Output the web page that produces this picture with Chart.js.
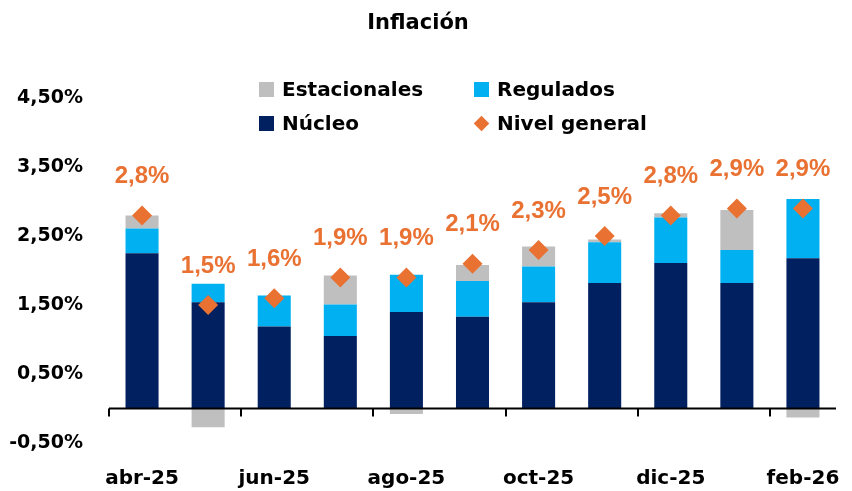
<!DOCTYPE html>
<html>
<head>
<meta charset="utf-8">
<script src="https://cdn.jsdelivr.net/npm/chart.js@4"></script>
<style>
    body { margin: 0; background: #fff; }
    #wrap { position: relative; width: 852px; height: 491px; }
    .legend { position: absolute; left: 0; top: 0; font: bold 20px "DejaVu Sans", sans-serif; color: #000; }
    .legend .item { position: absolute; display: flex; align-items: center; white-space: nowrap; height: 28px; }
    .legend .box { width: 15px; height: 15px; margin-right: 8px; }
    .legend .diamond { width: 11px; height: 11px; margin: 0 10px 0 2px; transform: rotate(45deg); }
</style>
</head>
<body>
<div id="wrap">
    <canvas id="chart"></canvas>
    <div class="legend">
        <div class="item" style="left:259px; top:75px;"><span class="box" style="background:#BFBFBF"></span>Estacionales</div>
        <div class="item" style="left:474px; top:75px;"><span class="box" style="background:#00B0F0"></span>Regulados</div>
        <div class="item" style="left:259px; top:109px;"><span class="box" style="background:#002060"></span>Núcleo</div>
        <div class="item" style="left:474px; top:109px;"><span class="diamond" style="background:#E97132"></span>Nivel general</div>
    </div>
</div>
<script>
// Datos (variación mensual, %)
const meses = ['abr-25', 'may-25', 'jun-25', 'jul-25', 'ago-25', 'sep-25', 'oct-25', 'nov-25', 'dic-25', 'ene-26', 'feb-26'];
const nucleo = [2.25, 1.54, 1.19, 1.05, 1.40, 1.33, 1.54, 1.82, 2.11, 1.82, 2.18];
const regulados = [0.36, 0.27, 0.45, 0.46, 0.54, 0.52, 0.52, 0.59, 0.66, 0.48, 0.86];
const estacionales = [0.19, -0.27, 0.00, 0.42, -0.08, 0.23, 0.29, 0.04, 0.06, 0.58, -0.13];
const nivelGeneral = [2.8, 1.5, 1.6, 1.9, 1.9, 2.1, 2.3, 2.5, 2.8, 2.9, 2.9];
const yTicks = [-0.5, 0.5, 1.5, 2.5, 3.5, 4.5];

const FONT = '"DejaVu Sans", sans-serif';
const NARANJA = '#E97132';

function pct(v, dec) {
    return v.toFixed(dec).replace('.', ',') + '%';
}

// Etiquetas naranjas sobre los rombos
const etiquetas = {
    id: 'etiquetas',
    afterDatasetsDraw(chart) {
        const meta = chart.getDatasetMeta(3);
        const ctx = chart.ctx;
        ctx.save();
        ctx.font = 'bold 24px "Liberation Sans", Arial, sans-serif';
        ctx.fillStyle = NARANJA;
        ctx.textAlign = 'center';
        ctx.textBaseline = 'middle';
        meta.data.forEach((pt, i) => {
            ctx.fillText(pct(nivelGeneral[i], 1), pt.x, pt.y - 39);
        });
        ctx.restore();
    }
};

// Eje horizontal en cero con marcas cada dos meses
const ejeCero = {
    id: 'ejeCero',
    afterDatasetsDraw(chart) {
        const x = chart.scales.x, y = chart.scales.y;
        const ctx = chart.ctx;
        const y0 = y.getPixelForValue(0);
        const half = (x.getPixelForValue(1) - x.getPixelForValue(0)) / 2;
        ctx.save();
        ctx.strokeStyle = '#000';
        ctx.lineWidth = 2;
        ctx.beginPath();
        ctx.moveTo(chart.chartArea.left, y0);
        ctx.lineTo(chart.chartArea.right, y0);
        for (let i = 0; i < meses.length; i += 2) {
            const px = Math.round(x.getPixelForValue(i) - half);
            ctx.moveTo(px, y0);
            ctx.lineTo(px, y0 + 8);
        }
        ctx.stroke();
        ctx.restore();
    }
};

new Chart(document.getElementById('chart'), {
    data: {
        labels: meses,
        datasets: [
            { type: 'bar', label: 'Núcleo', data: nucleo, backgroundColor: '#002060', stack: 'a', order: 2 },
            { type: 'bar', label: 'Regulados', data: regulados, backgroundColor: '#00B0F0', stack: 'a', order: 2 },
            { type: 'bar', label: 'Estacionales', data: estacionales, backgroundColor: '#BFBFBF', stack: 'a', order: 2 },
            {
                type: 'line', label: 'Nivel general', data: nivelGeneral, stack: 'b', order: 1,
                showLine: false, pointStyle: 'rectRot', pointRadius: 10, pointHoverRadius: 10,
                backgroundColor: NARANJA, borderColor: NARANJA, borderWidth: 0
            }
        ]
    },
    options: {
        responsive: true,
        maintainAspectRatio: false,
        animation: false,
        datasets: { bar: { categoryPercentage: 1, barPercentage: 0.5 } },
        layout: { padding: { left: 0, right: 16, top: 0, bottom: 0 } },
        plugins: {
            legend: { display: false },
            tooltip: { enabled: false },
            title: {
                display: true,
                text: 'Inflación',
                color: '#000',
                font: { family: FONT, size: 21, weight: 'bold' },
                padding: { top: 11, bottom: 62 }
            }
        },
        scales: {
            x: {
                stacked: true,
                grid: { display: false, drawTicks: false },
                border: { display: false },
                ticks: {
                    autoSkip: false,
                    maxRotation: 0,
                    padding: 24,
                    color: '#000',
                    font: { family: FONT, size: 20, weight: 'bold' },
                    callback: (v, i) => (i % 2 === 0 ? meses[i] : '')
                },
                afterFit(scale) { scale.height = 48; scale.paddingLeft = 0; scale.paddingRight = 0; }
            },
            y: {
                stacked: true,
                min: -0.5,
                max: 4.5,
                grid: { display: false, drawTicks: false },
                border: { display: false },
                afterBuildTicks(scale) { scale.ticks = yTicks.map(v => ({ value: v })); },
                ticks: {
                    padding: 26,
                    color: '#000',
                    font: { family: FONT, size: 19, weight: 'bold' },
                    callback: v => pct(v, 2)
                },
                afterFit(scale) { scale.width = 109; }
            }
        }
    },
    plugins: [etiquetas, ejeCero]
});
</script>
</body>
</html>
